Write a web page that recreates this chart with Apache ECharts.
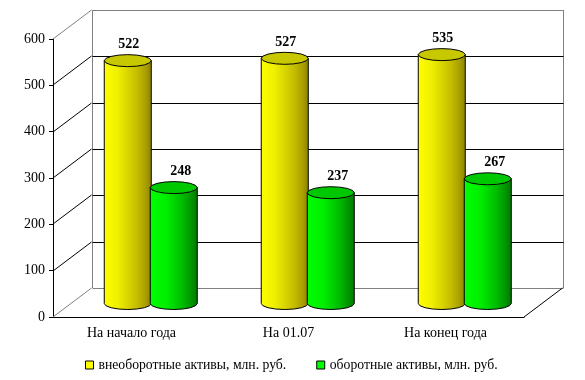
<!DOCTYPE html>
<html><head><meta charset="utf-8">
<style>html,body{margin:0;padding:0;background:#fff}#c{width:585px;height:380px}</style>
<script src="https://cdn.jsdelivr.net/npm/echarts@6/dist/echarts.min.js"></script>
</head><body><div id="c"></div>
<script>
const categories = ['На начало года', 'На 01.07', 'На конец года'];
const fixedAssets = [522, 527, 535];
const currentAssets = [248, 237, 267];
const fixedName = 'внеоборотные активы, млн. руб.';
const currentName = 'оборотные активы, млн. руб.';
const yTicks = [0, 100, 200, 300, 400, 500, 600];

const FONT = '"Liberation Serif","Times New Roman",serif';
const DX = 38.5, DY = -29;         // depth of the pseudo-3D box
const GREY = '#808080';
const chart = echarts.init(document.getElementById('c'), null, {renderer: 'canvas'});

function line(x1, y1, x2, y2, color) {
  return {type: 'line', shape: {x1, y1, x2, y2}, style: {stroke: color, lineWidth: 1, fill: null}, silent: true};
}
function renderWall(params, api) {
  const v = api.value(0);
  const rect = params.coordSys;
  const p = api.coord([0, v]);
  const y = Math.round(p[1]);
  const xl = rect.x, xr = rect.x + rect.width;
  const edge = v === yTicks[0] || v === yTicks[yTicks.length - 1];
  const c = edge ? GREY : '#000';
  const children = [
    line(xl, y, xl + DX, y + DY, c),
    line(Math.round(xl + DX) + .5, y + DY + .5, Math.round(xr + DX) + .5, y + DY + .5, c)
  ];
  if (v === yTicks[0]) {
    children.push(line(xr, y, xr + DX, y + DY, '#000'));
    const top = Math.round(api.coord([0, yTicks[yTicks.length - 1]])[1]);
    children.push(line(Math.round(xl + DX) + .5, y + DY, Math.round(xl + DX) + .5, top + DY, GREY));
    children.push(line(Math.round(xr + DX) + .5, y + DY, Math.round(xr + DX) + .5, top + DY, GREY));
  }
  return {type: 'group', children};
}
function cylinder(stops, topColor, shift, labelShift) {
  return function (params, api) {
    const i = api.value(0), v = api.value(1);
    const base = api.coord([i, 0]);
    const top = api.coord([i, v]);
    const rx = 23.5, ry = 6;
    const cx = base[0] + DX / 2 + shift;
    const by = base[1] + DY / 2 + 1;
    const ty = top[1] + DY / 2;
    const N = 8;
    const front = [], ring = [];
    for (let k = 0; k <= N; k++) {
      const a = Math.PI * k / N;
      front.push([cx + rx * Math.cos(a), by + ry * Math.sin(a)]);
    }
    for (let k = 0; k < 2 * N; k++) {
      const a = Math.PI * k / N;
      ring.push([cx + rx * Math.cos(a), ty + ry * Math.sin(a)]);
    }
    const body = [[cx - rx, ty]].concat(front.slice().reverse()).concat([[cx + rx, ty]]);
    return {type: 'group', children: [
      {type: 'polygon', shape: {points: body}, style: {
        fill: new echarts.graphic.LinearGradient(0, 0, 1, 0, stops), stroke: '#000', lineWidth: 1}},
      {type: 'polygon', shape: {points: ring}, style: {fill: topColor, stroke: '#000', lineWidth: 1}},
      {type: 'text', style: {text: String(v), x: cx + labelShift, y: ty - 16, align: 'center', verticalAlign: 'middle',
        font: 'bold 14px ' + FONT, fill: '#000'}}
    ]};
  };
}
const yellowStops = [
  {offset: 0, color: '#ffff00'}, {offset: .3, color: '#eeee00'},
  {offset: .7, color: '#c4bc00'}, {offset: .88, color: '#a89e00'}, {offset: 1, color: '#8a8000'}];
const greenStops = [
  {offset: 0, color: '#00ff00'}, {offset: .35, color: '#00ee00'},
  {offset: .7, color: '#00b800'}, {offset: 1, color: '#007800'}];

chart.setOption({
  animation: false,
  backgroundColor: '#fff',
  textStyle: {fontFamily: FONT},
  grid: {left: 53, right: 61, top: 39, bottom: 63},
  xAxis: {type: 'category', data: categories, boundaryGap: true,
    axisLine: {lineStyle: {color: '#000', width: 1}},
    axisTick: {length: 4, lineStyle: {color: '#000'}, alignWithLabel: false},
    axisLabel: {color: '#000', fontSize: 14, fontFamily: FONT, margin: 9, interval: 0}},
  yAxis: {type: 'value', min: 0, max: 600, interval: 100,
    axisLine: {show: true, lineStyle: {color: '#000', width: 1}},
    axisTick: {show: true, length: 4, lineStyle: {color: '#000'}},
    axisLabel: {color: '#000', fontSize: 14, fontFamily: FONT, margin: 8},
    splitLine: {show: false}},
  legend: {left: 80, top: 353, itemWidth: 8, itemHeight: 8, itemGap: 30,
    textStyle: {fontSize: 13.7, color: '#000', fontFamily: FONT},
    data: [
      {name: fixedName, icon: 'rect', itemStyle: {color: '#ffff00', borderColor: '#000', borderWidth: 1}},
      {name: currentName, icon: 'rect', itemStyle: {color: '#00ff00', borderColor: '#000', borderWidth: 1}}]},
  series: [
    {type: 'custom', name: 'walls', coordinateSystem: 'cartesian2d', silent: true,
      encode: {y: 0}, data: yTicks.map(v => [v]), renderItem: renderWall, clip: false},
    {type: 'custom', name: fixedName, itemStyle: {color: '#ffff00'}, clip: false,
      data: fixedAssets.map((v, i) => [i, v]), encode: {x: 0, y: 1},
      renderItem: cylinder(yellowStops, '#c8c800', -23, 1)},
    {type: 'custom', name: currentName, itemStyle: {color: '#00ff00'}, clip: false,
      data: currentAssets.map((v, i) => [i, v]), encode: {x: 0, y: 1},
      renderItem: cylinder(greenStops, '#00c800', 23, 7)}
  ]
});
</script></body></html>
